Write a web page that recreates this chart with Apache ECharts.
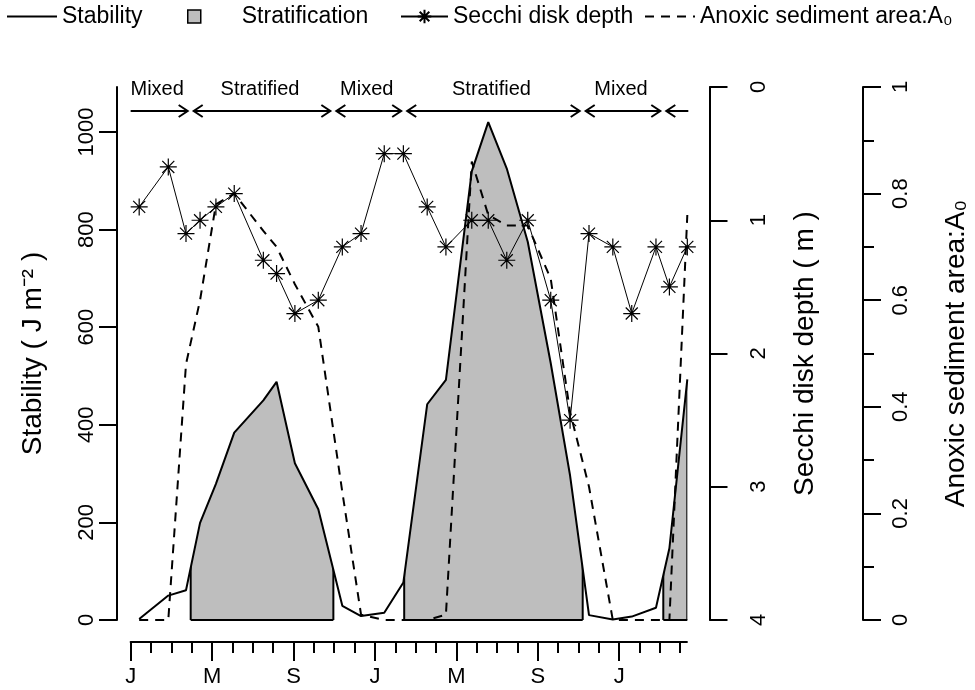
<!DOCTYPE html>
<html><head><meta charset="utf-8">
<script src="https://cdn.jsdelivr.net/npm/echarts@6/dist/echarts.min.js"></script>
<style>html,body{margin:0;padding:0;background:#fff}#c{width:975px;height:690px}</style>
</head><body><div id="c"></div>
<script>
// ---- data (x = months since 1 January of the first year) ----
const sampleMonths = [0.42,1.85,2.72,3.41,4.19,5.09,6.52,7.17,8.07,9.22,10.40,11.32,12.46,13.40,14.57,15.49,16.76,17.57,18.48,19.51,20.64,21.59,22.52,23.69,24.62,25.81,26.47,27.35];
const stability = [2,50,61,199,279,384,450,488,321,227,29,8,15,77,442,492,919,1020,925,775,526,296,10,1,7,25,147,493];
const secchiDepth = [0.9,0.6,1.1,1.0,0.9,0.8,1.3,1.4,1.7,1.6,1.2,1.1,0.5,0.5,0.9,1.2,1.0,1.0,1.3,1.0,1.6,2.5,1.1,1.2,1.7,1.2,1.5,1.2];
const anoxicArea = [0,0,0.48,0.60,0.78,0.80,0.73,0.70,0.63,0.55,0.24,0.01,0,0,0,0.01,0.86,0.76,0.74,0.74,0.64,0.39,0.25,0,0,0,0,0.76];
const periodBounds = [0, 2.95, 9.96, 13.44, 22.21, 26.17, 27.35];
const periodKinds = ['Mixed','Stratified','Mixed','Stratified','Mixed','Stratified'];
const periodLabels = ['Mixed','Stratified','Mixed','Stratified','Mixed',''];
const monthTicks = [0,1,2,3,4,5,6,7,8,9,10,11,12,13,14,15,16,17,18,19,20,21,22,23,24,25,26,27];
const monthLabelTicks = [0,4,8,12,16,20,24];
const monthLabels = ['J','M','S','J','M','S','J'];
const stabilityTicks = [0,200,400,600,800,1000];
const legendNames = ['Stability', 'Stratification', 'Secchi disk depth', 'Anoxic sediment area:A₀'];

const FONT = "'Liberation Sans', Arial, Helvetica, sans-serif";
const BLACK = '#000';
const CLEAR = 'rgba(0,0,0,0)';
const pairs = ys => sampleMonths.map((m, i) => [m, ys[i]]);

const allPeriods = [], stratPeriods = [];
for (let i = 0; i < periodBounds.length - 1; i++) {
  allPeriods.push([periodBounds[i], periodBounds[i + 1], i]);
  if (periodKinds[i] === 'Stratified') stratPeriods.push([periodBounds[i], periodBounds[i + 1], i]);
}

function renderStrat(params, api) {
  const s = api.value(0), e = api.value(1);
  const pts = [api.coord([sampleMonths[0], 0])];
  for (let i = 0; i < sampleMonths.length; i++) pts.push(api.coord([sampleMonths[i], stability[i]]));
  pts.push(api.coord([sampleMonths[sampleMonths.length - 1], 0]));
  const p0 = api.coord([s, 0]), p1 = api.coord([e, 0]);
  const top = params.coordSys.y;
  return {
    type: 'group',
    children: [
      { type: 'polygon', shape: { points: pts }, style: { fill: '#bebebe' },
        clipPath: { type: 'rect', shape: { x: p0[0], y: top - 30, width: p1[0] - p0[0], height: p0[1] - top + 30 } } },
      { type: 'rect', shape: { x: p0[0], y: top - 30, width: p1[0] - p0[0], height: p0[1] - top + 30 },
        style: { fill: 'none', stroke: BLACK, lineWidth: 2 },
        clipPath: { type: 'polygon', shape: { points: pts } } },
      { type: 'line', shape: { x1: p0[0], y1: p0[1], x2: p1[0], y2: p1[1] }, style: { stroke: BLACK, lineWidth: 2 } }
    ]
  };
}

function renderPeriods(params, api) {
  const i = params.dataIndex, last = allPeriods.length - 1;
  const s = api.value(0), e = api.value(1);
  const top = params.coordSys.y;
  const ya = top + 24, yt = top + 2;
  const xs = api.coord([s, 0])[0] + (i === 0 ? 0 : 3);
  const xe = api.coord([e, 0])[0] + (i === last ? 1 : -3);
  const st = { stroke: BLACK, lineWidth: 2, fill: 'none' };
  const ch = [{ type: 'line', shape: { x1: xs, y1: ya, x2: xe, y2: ya }, style: st }];
  if (i > 0) ch.push({ type: 'polyline', shape: { points: [[xs + 9, ya - 6], [xs, ya], [xs + 9, ya + 6]] }, style: st });
  if (i < last) ch.push({ type: 'polyline', shape: { points: [[xe - 9, ya - 6], [xe, ya], [xe - 9, ya + 6]] }, style: st });
  if (periodLabels[i]) ch.push({ type: 'text', x: (xs + xe) / 2 - 2, y: yt,
    style: { text: periodLabels[i], textAlign: 'center', textVerticalAlign: 'middle', font: '20px ' + FONT, fill: BLACK } });
  return { type: 'group', children: ch };
}

const axisLineStyle = { color: BLACK, width: 2 };
const STAR = 'path://M0,-1L0,1M-1,0L1,0M-0.7071,-0.7071L0.7071,0.7071M-0.7071,0.7071L0.7071,-0.7071';
const legendText = { fontSize: 23, color: BLACK, fontFamily: FONT };
function oneLegend(left, itemWidth, item) {
  return { left: left, top: 5, itemWidth: itemWidth, itemHeight: 17, itemGap: 0, padding: 0,
           textStyle: legendText, data: [item] };
}

const chart = echarts.init(document.getElementById('c'), null, { renderer: 'canvas' });
chart.setOption({
  animation: false,
  backgroundColor: '#fff',
  textStyle: { fontFamily: FONT, color: BLACK },
  legend: [
    oneLegend(6, 50, { name: legendNames[0] }),
    oneLegend(187, 49, { name: legendNames[1], icon: 'path://M0,0M0,2L13,2L13,15L0,15ZM49,17',
      itemStyle: { color: '#bebebe', borderColor: BLACK, borderWidth: 1.5 } }),
    oneLegend(400, 47, { name: legendNames[2] }),
    oneLegend(644, 50, { name: legendNames[3] })
  ],
  grid: [
    { left: 117, top: 87, width: 592.5, height: 533, containLabel: false, outerBoundsMode: 'none' },
    { left: 130.64, top: 87, width: 556.3, height: 555, containLabel: false, outerBoundsMode: 'none' }
  ],
  xAxis: [
    { gridIndex: 0, type: 'value', min: -0.67, max: 28.44, show: false },
    { gridIndex: 1, type: 'value', min: 0, max: 27.33, position: 'bottom',
      axisLine: { show: true, onZero: false, lineStyle: axisLineStyle },
      axisTick: { show: true, length: 11, customValues: monthTicks, lineStyle: axisLineStyle },
      axisLabel: { show: false }, splitLine: { show: false } },
    { gridIndex: 1, type: 'value', min: 0, max: 27.33, position: 'bottom',
      axisLine: { show: false, onZero: false },
      axisTick: { show: true, length: 19, customValues: monthLabelTicks, lineStyle: axisLineStyle },
      axisLabel: { show: true, customValues: monthLabelTicks, margin: 24, fontSize: 22, color: BLACK, fontFamily: FONT,
        formatter: v => monthLabels[monthLabelTicks.indexOf(Math.round(v))] || '' },
      splitLine: { show: false } }
  ],
  yAxis: [
    { gridIndex: 0, type: 'value', position: 'left', min: 0, max: 1092,
      axisLine: { show: true, onZero: false, lineStyle: axisLineStyle },
      axisTick: { show: true, length: 18, customValues: stabilityTicks, lineStyle: axisLineStyle },
      axisLabel: { customValues: stabilityTicks, rotate: 90, margin: 19, fontSize: 22, color: BLACK, fontFamily: FONT,
        formatter: v => String(v) },
      splitLine: { show: false },
      name: 'Stability ( J m⁻² )', nameLocation: 'middle', nameRotate: 90, nameGap: 70,
      nameTextStyle: { fontSize: 28, color: BLACK, fontFamily: FONT } },
    { gridIndex: 0, type: 'value', position: 'right', inverse: true, min: 0, max: 4, interval: 1,
      axisLine: { show: true, onZero: false, lineStyle: axisLineStyle },
      axisTick: { show: true, length: 18, lineStyle: axisLineStyle },
      axisLabel: { rotate: 90, margin: 38, fontSize: 22, color: BLACK, fontFamily: FONT },
      splitLine: { show: false },
      name: 'Secchi disk depth ( m )', nameLocation: 'middle', nameRotate: 90, nameGap: 82,
      nameTextStyle: { fontSize: 28, color: BLACK, fontFamily: FONT } },
    { gridIndex: 0, type: 'value', position: 'right', offset: 153.5, min: 0, max: 1, interval: 0.2,
      axisLine: { show: true, onZero: false, lineStyle: axisLineStyle },
      axisTick: { show: true, length: 18, lineStyle: axisLineStyle },
      minorTick: { show: true, splitNumber: 2, length: 11, lineStyle: axisLineStyle },
      axisLabel: { rotate: 90, margin: 27, fontSize: 22, color: BLACK, fontFamily: FONT },
      splitLine: { show: false },
      name: legendNames[3], nameLocation: 'middle', nameRotate: 90, nameGap: 79,
      nameTextStyle: { fontSize: 28, color: BLACK, fontFamily: FONT } },
    { gridIndex: 1, type: 'value', min: 0, max: 1, show: false }
  ],
  series: [
    { name: legendNames[1], type: 'custom', xAxisIndex: 0, yAxisIndex: 0, z: 1,
      itemStyle: { color: '#bebebe' }, renderItem: renderStrat, data: stratPeriods,
      encode: { x: [0, 1], y: 2 } },
    { name: legendNames[0], type: 'line', xAxisIndex: 0, yAxisIndex: 0, z: 3, data: pairs(stability),
      symbol: 'none', lineStyle: { color: BLACK, width: 2 }, itemStyle: { color: CLEAR } },
    { name: legendNames[2], type: 'line', xAxisIndex: 0, yAxisIndex: 1, z: 4, data: pairs(secchiDepth),
      symbol: STAR, symbolSize: 17, showAllSymbol: true,
      lineStyle: { color: BLACK, width: 1 },
      itemStyle: { color: CLEAR, borderColor: BLACK, borderWidth: 1.2 } },
    { name: legendNames[3], type: 'line', xAxisIndex: 0, yAxisIndex: 2, z: 2, data: pairs(anoxicArea),
      symbol: 'none', lineStyle: { color: BLACK, width: 2, type: [9, 7] }, itemStyle: { color: CLEAR } },
    { name: 'periods', type: 'custom', xAxisIndex: 0, yAxisIndex: 0, z: 5, silent: true,
      renderItem: renderPeriods, data: allPeriods, encode: { x: [0, 1], y: 2 } }
  ]
});
</script></body></html>
